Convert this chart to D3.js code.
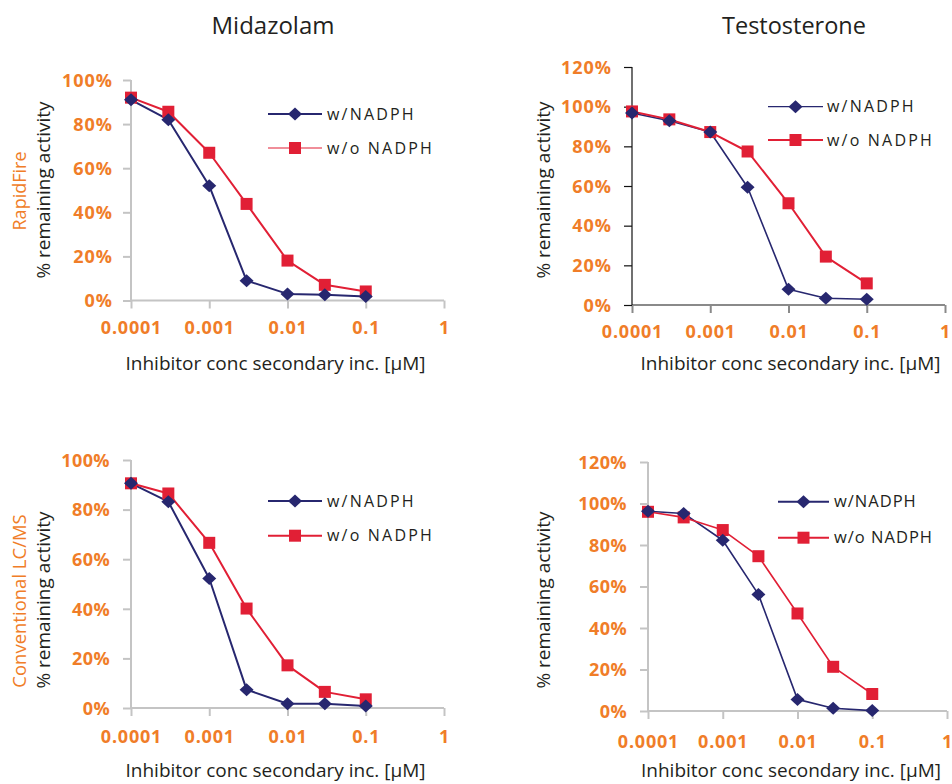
<!DOCTYPE html>
<html>
<head>
<meta charset="utf-8">
<script src="https://cdn.jsdelivr.net/npm/d3@7"></script>
<style>
  html, body { margin: 0; padding: 0; background: #fff; }
  svg { display: block; font-family: "Open Sans", "Noto Sans", sans-serif; }
</style>
</head>
<body>
<svg id="chart" width="952" height="784"></svg>
<script>
// ---------------- data ----------------
const concentrations = [0.0001, 0.0003, 0.001, 0.003, 0.01, 0.03, 0.1];
const xTickValues = [0.0001, 0.001, 0.01, 0.1, 1];
const xTickLabels = ["0.0001", "0.001", "0.01", "0.1", "1"];
const yTicks100 = [0, 20, 40, 60, 80, 100];
const yTicks120 = [0, 20, 40, 60, 80, 100, 120];
const seriesNames = ["w/NADPH", "w/o NADPH"];
const columnTitles = ["Midazolam", "Testosterone"];
const rowLabels = ["RapidFire", "Conventional LC/MS"];
const yAxisTitle = "% remaining activity";
const xAxisTitle = "Inhibitor conc secondary inc. [\u00B5M]";

const midazolamRapidFireWith    = [91, 82, 52, 9, 3, 2.6, 1.8];
const midazolamRapidFireWithout = [92, 85.6, 67, 43.8, 18.1, 7.1, 4.1];
const testosteroneRapidFireWith    = [96.8, 92.9, 87.2, 59.4, 7.9, 3.4, 2.9];
const testosteroneRapidFireWithout = [97.6, 93.6, 87.2, 77.4, 51.3, 24.4, 10.9];
const midazolamLCMSWith    = [90.6, 83.2, 52.2, 7.4, 1.7, 1.7, 0.8];
const midazolamLCMSWithout = [90.6, 86.5, 66.6, 40.1, 17.2, 6.5, 3.5];
const testosteroneLCMSWith    = [96.3, 95.2, 82.3, 56.2, 5.6, 1.3, 0.2];
const testosteroneLCMSWithout = [96, 93.3, 87.2, 74.6, 47, 21.3, 8.2];

// ---------------- styles / layout ----------------
const ORANGE = "#f07d28";
const NAVY = "#27276f";
const RED = "#e11f35";
const INK = "#231f20";

const panels = [
  { withData: midazolamRapidFireWith, withoutData: midazolamRapidFireWithout, yMax: 100, yTicks: yTicks100,
    left: 131, right: 444, top: 80, bottom: 300.5,
    yAxisColor: "#c4c4c4", yAxisW: 2, xAxisColor: "#c4c4c4", xAxisW: 2,
    yLabelDx: -18, xLabelDy: 27, tickFont: 18, tickSpacing: 1,
    lineW: [2, 2], legLineW: [2, 1.2],
    legX1: 268, legX2: 322, legY: [114, 148], legTextX: 327, legFont: 16, legSpacing: 2.2,
    yTitleX: 43, yTitleY: 190, xTitleX: 275.5, xTitleY: 363 },
  { withData: testosteroneRapidFireWith, withoutData: testosteroneRapidFireWithout, yMax: 120, yTicks: yTicks120,
    left: 632, right: 945, top: 67, bottom: 305,
    yAxisColor: "#111", yAxisW: 1.2, xAxisColor: "#8a8a8a", xAxisW: 2,
    yLabelDx: -20, xLabelDy: 27, tickFont: 18, tickSpacing: 1,
    lineW: [1.6, 2], legLineW: [1.2, 2],
    legX1: 768, legX2: 823, legY: [106.7, 140], legTextX: 827, legFont: 16, legSpacing: 2.2,
    yTitleX: 543, yTitleY: 190, xTitleX: 790.5, xTitleY: 363 },
  { withData: midazolamLCMSWith, withoutData: midazolamLCMSWithout, yMax: 100, yTicks: yTicks100,
    left: 131, right: 444, top: 460, bottom: 708,
    yAxisColor: "#c4c4c4", yAxisW: 2, xAxisColor: "#c4c4c4", xAxisW: 2,
    yLabelDx: -21, xLabelDy: 29, tickFont: 18, tickSpacing: 0.4,
    lineW: [2, 2], legLineW: [2, 2],
    legX1: 268, legX2: 322, legY: [501, 535.7], legTextX: 327, legFont: 16, legSpacing: 2.2,
    yTitleX: 43, yTitleY: 600, xTitleX: 275.5, xTitleY: 770 },
  { withData: testosteroneLCMSWith, withoutData: testosteroneLCMSWithout, yMax: 120, yTicks: yTicks120,
    left: 648, right: 947, top: 462, bottom: 711,
    yAxisColor: "#c4c4c4", yAxisW: 2, xAxisColor: "#c4c4c4", xAxisW: 2,
    yLabelDx: -21, xLabelDy: 31, tickFont: 18, tickSpacing: 0.4,
    lineW: [1.6, 1.6], legLineW: [2, 2],
    legX1: 778, legX2: 829, legY: [501.7, 537.7], legTextX: 834, legFont: 16.5, legSpacing: 1,
    yTitleX: 543, yTitleY: 600, xTitleX: 791, xTitleY: 770 }
];

const svg = d3.select("#chart");

// column titles
svg.append("text").attr("x", 273).attr("y", 34).attr("text-anchor", "middle")
  .attr("font-size", 24).attr("fill", INK).text(columnTitles[0]);
svg.append("text").attr("x", 794).attr("y", 34).attr("text-anchor", "middle")
  .attr("font-size", 23.5).attr("fill", INK).text(columnTitles[1]);

// row labels
svg.append("text").attr("transform", "translate(26,191) rotate(-90)").attr("text-anchor", "middle")
  .attr("font-size", 18).attr("fill", ORANGE).text(rowLabels[0]);
svg.append("text").attr("transform", "translate(26,601) rotate(-90)").attr("text-anchor", "middle")
  .attr("font-size", 18.5).attr("fill", ORANGE).text(rowLabels[1]);

const diamond = "M0,-6.5L7,0L0,6.5L-7,0Z";
const square = "M-6,-6H6V6H-6Z";

panels.forEach(p => {
  const x = d3.scaleLog().domain([0.0001, 1]).range([p.left, p.right]);
  const y = d3.scaleLinear().domain([0, p.yMax]).range([p.bottom, p.top]);
  const g = svg.append("g");

  // y axis
  const yAxis = g.append("g").attr("transform", `translate(${p.left},0)`)
    .call(d3.axisLeft(y).tickValues(p.yTicks).tickSize(8).tickFormat(d => d + "%"));
  yAxis.select(".domain").attr("stroke", p.yAxisColor).attr("stroke-width", p.yAxisW)
    .attr("d", `M0,${p.top}V${p.bottom}`);
  yAxis.selectAll(".tick line").attr("stroke", p.yAxisColor).attr("stroke-width", p.yAxisW);
  yAxis.selectAll(".tick text").attr("x", p.yLabelDx).attr("dy", "0.35em")
    .attr("fill", ORANGE).attr("font-weight", "bold").attr("font-size", p.tickFont)
    .attr("letter-spacing", p.tickSpacing).attr("font-family", "'Open Sans', sans-serif");

  // x axis
  const xAxis = g.append("g").attr("transform", `translate(0,${p.bottom})`)
    .call(d3.axisBottom(x).tickValues(xTickValues).tickSize(8)
      .tickFormat((d, i) => xTickLabels[i]));
  xAxis.select(".domain").attr("stroke", p.xAxisColor).attr("stroke-width", p.xAxisW)
    .attr("d", `M${p.left},0H${p.right}`);
  xAxis.selectAll(".tick line").attr("stroke", p.xAxisColor).attr("stroke-width", p.xAxisW);
  xAxis.selectAll(".tick text").attr("y", p.xLabelDy).attr("dy", "0.35em")
    .attr("fill", ORANGE).attr("font-weight", "bold").attr("font-size", p.tickFont)
    .attr("letter-spacing", 0.8).attr("font-family", "'Open Sans', sans-serif");
  yAxis.raise();

  // series
  const series = [
    { values: p.withData, color: NAVY, shape: diamond, w: p.lineW[0], legW: p.legLineW[0] },
    { values: p.withoutData, color: RED, shape: square, w: p.lineW[1], legW: p.legLineW[1] }
  ];
  const line = d3.line().x(d => x(d[0])).y(d => y(d[1]));
  series.forEach(s => {
    const pts = concentrations.map((c, i) => [c, s.values[i]]);
    g.append("path").attr("d", line(pts)).attr("fill", "none")
      .attr("stroke", s.color).attr("stroke-width", s.w).attr("stroke-linejoin", "round");
  });
  series.slice().reverse().forEach(s => {
    const pts = concentrations.map((c, i) => [c, s.values[i]]);
    g.selectAll(null).data(pts).enter().append("path")
      .attr("d", s.shape).attr("fill", s.color)
      .attr("transform", d => `translate(${x(d[0])},${y(d[1])})`);
  });

  // legend
  series.forEach((s, i) => {
    const ly = p.legY[i];
    g.append("line").attr("x1", p.legX1).attr("x2", p.legX2).attr("y1", ly).attr("y2", ly)
      .attr("stroke", s.color).attr("stroke-width", s.legW);
    g.append("path").attr("d", s.shape).attr("fill", s.color)
      .attr("transform", `translate(${(p.legX1 + p.legX2) / 2},${ly})`);
    g.append("text").attr("x", p.legTextX).attr("y", ly).attr("dy", "0.35em")
      .attr("font-size", p.legFont).attr("letter-spacing", p.legSpacing).attr("fill", INK)
      .text(seriesNames[i]);
  });

  // axis titles
  g.append("text").attr("transform", `translate(${p.yTitleX},${p.yTitleY}) rotate(-90)`)
    .attr("text-anchor", "middle").attr("dy", "0.35em").attr("font-size", 19).attr("fill", INK)
    .text(yAxisTitle);
  g.append("text").attr("x", p.xTitleX).attr("y", p.xTitleY).attr("dy", "0.35em")
    .attr("text-anchor", "middle").attr("font-size", 19).attr("fill", INK)
    .text(xAxisTitle);
});
</script>
</body>
</html>
